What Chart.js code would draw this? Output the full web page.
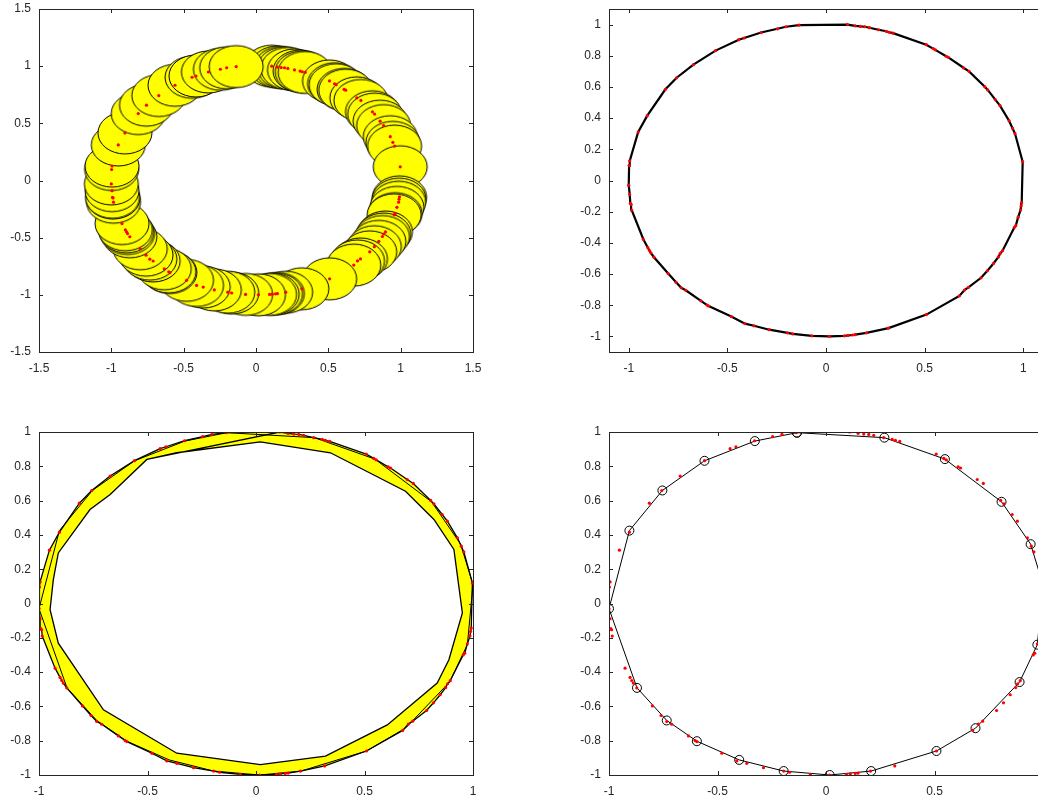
<!DOCTYPE html>
<html>
<head>
<meta charset="utf-8">
<script src="https://cdn.jsdelivr.net/npm/chart.js@4.4.0/dist/chart.umd.min.js"></script>
<style>
html, body { margin: 0; padding: 0; background: #fff; }
body { width: 1038px; height: 801px; overflow: hidden; position: relative; }
canvas { position: absolute; }
</style>
</head>
<body>
<canvas id="c1" width="490" height="380" style="left:0;top:0"></canvas>
<canvas id="c2" width="490" height="380" style="left:570px;top:0"></canvas>
<canvas id="c3" width="490" height="380" style="left:0;top:423px"></canvas>
<canvas id="c4" width="490" height="380" style="left:570px;top:423px"></canvas>
<script>
	// red sample points, clockwise from the top
	var dotX = [0.109, 0.148, 0.174, 0.197, 0.22, 0.266, 0.305, 0.32, 0.34, 0.508, 0.543, 0.554, 0.609, 0.62, 0.697,
		0.725, 0.805, 0.82, 0.858, 0.882, 0.928, 0.946, 0.958, 0.997, 0.992, 0.989, 0.986, 0.974, 0.962, 0.955,
		0.895, 0.883, 0.874, 0.849, 0.818, 0.786, 0.722, 0.702, 0.676, 0.509, 0.317, 0.205, 0.148, 0.135, 0.112,
		0.094, 0.017, -0.072, -0.168, -0.195, -0.288, -0.365, -0.411, -0.48, -0.595, -0.603, -0.634, -0.711, -0.734, -0.76,
		-0.8, -0.872, -0.888, -0.895, -0.903, -0.926, -0.985, -0.988, -0.992, -0.995, -1.0, -0.998, -0.995, -0.952, -0.906,
		-0.814, -0.757, -0.672, -0.56, -0.442, -0.415, -0.329, -0.246, -0.203, -0.137];
	var dotY = [1.0, 0.992, 0.988, 0.986, 0.98, 0.967, 0.957, 0.951, 0.945, 0.871, 0.846, 0.838, 0.797, 0.79, 0.723,
		0.7, 0.601, 0.581, 0.519, 0.48, 0.383, 0.334, 0.301, 0.12, -0.143, -0.163, -0.19, -0.235, -0.29, -0.3,
		-0.45, -0.468, -0.49, -0.532, -0.579, -0.624, -0.686, -0.703, -0.74, -0.86, -0.947, -0.977, -0.989, -0.991, -0.994,
		-0.996, -1.0, -0.996, -0.984, -0.977, -0.957, -0.932, -0.918, -0.873, -0.805, -0.799, -0.772, -0.704, -0.688, -0.653,
		-0.597, -0.492, -0.464, -0.449, -0.431, -0.377, -0.19, -0.153, -0.147, -0.089, -0.03, 0.096, 0.126, 0.311, 0.416,
		0.585, 0.659, 0.743, 0.833, 0.903, 0.914, 0.949, 0.973, 0.986, 0.996];

	// polygon vertices (circle markers), clockwise from the top
	var vertX = [-0.134, 0.269, 0.548, 0.809, 0.943, 1.0, 0.974, 0.892, 0.689, 0.509, 0.208, 0.017, -0.195, -0.4, -0.595,
		-0.734, -0.871, -1.0, -0.906, -0.754, -0.56, -0.328];
	var vertY = [0.996, 0.967, 0.842, 0.593, 0.346, 0.11, -0.24, -0.458, -0.727, -0.86, -0.977, -1.0, -0.977, -0.912, -0.803,
		-0.682, -0.492, -0.03, 0.425, 0.659, 0.832, 0.947];

	// inner edge of the yellow band, clockwise from the top left
	var innerX = [-0.503, -0.365, 0.02, 0.343, 0.689, 0.82, 0.912, 0.951, 0.889, 0.835, 0.605, 0.32, 0.02, -0.365, -0.703,
		-0.911, -0.949, -0.934, -0.911, -0.765, -0.672];
	var innerY = [0.84, 0.879, 0.942, 0.879, 0.655, 0.49, 0.315, -0.055, -0.328, -0.464, -0.708, -0.89, -0.94, -0.873, -0.62,
		-0.231, -0.036, 0.139, 0.295, 0.548, 0.636];

	var ticksWide = [-1.5, -1, -0.5, 0, 0.5, 1, 1.5];
	var ticksHalf = [-1, -0.5, 0, 0.5, 1];
	var ticksFine = [-1, -0.8, -0.6, -0.4, -0.2, 0, 0.2, 0.4, 0.6, 0.8, 1];

	var axisColor = '#262626';

	function pts(xs, ys) {
		return xs.map(function(x, i) { return {x: x, y: ys[i]}; });
	}
	function closed(list) {
		return list.concat([list[0]]);
	}

	// inward ticks on all four sides plus the box
	var frameTicks = {
		id: 'frameTicks',
		afterDatasetsDraw: function(chart) {
			var ctx = chart.ctx, a = chart.chartArea;
			var sx = chart.scales.x, sy = chart.scales.y;
			ctx.save();
			ctx.strokeStyle = axisColor;
			ctx.lineWidth = 1;
			ctx.beginPath();
			sx.ticks.forEach(function(t) {
				var px = Math.round(sx.getPixelForValue(t.value)) + 0.5;
				ctx.moveTo(px, a.bottom); ctx.lineTo(px, a.bottom - 4);
				ctx.moveTo(px, a.top); ctx.lineTo(px, a.top + 4);
			});
			sy.ticks.forEach(function(t) {
				var py = Math.round(sy.getPixelForValue(t.value)) + 0.5;
				ctx.moveTo(a.left, py); ctx.lineTo(a.left + 4, py);
				ctx.moveTo(a.right, py); ctx.lineTo(a.right - 4, py);
			});
			ctx.stroke();
			ctx.strokeRect(Math.round(a.left) + 0.5, Math.round(a.top) + 0.5,
				Math.round(a.right - a.left), Math.round(a.bottom - a.top));
			ctx.restore();
		}
	};

	function axis(min, max, list, pad, vertical) {
		return {
			type: 'linear',
			min: min,
			max: max,
			grid: {display: false, drawTicks: false},
			border: {display: false},
			afterBuildTicks: function(scale) {
				scale.ticks = list.map(function(v) { return {value: v}; });
			},
			afterFit: function(scale) {
				if (vertical) scale.width = 39; else scale.height = 28;
				// the box is placed by hand, labels may hang over it
				scale.paddingTop = 0; scale.paddingBottom = 0;
				scale.paddingLeft = 0; scale.paddingRight = 0;
			},
			ticks: {
				padding: pad,
				color: axisColor,
				font: {family: "'Liberation Sans', Arial, sans-serif", size: 12},
				autoSkip: false,
				maxRotation: 0,
				callback: function(v) { return String(v); }
			}
		};
	}

	function makeChart(id, datasets, xr, yr, xt, yt) {
		return new Chart(document.getElementById(id).getContext('2d'), {
			type: 'scatter',
			data: {datasets: datasets},
			plugins: [frameTicks],
			options: {
				responsive: false,
				animation: false,
				events: [],
				layout: {autoPadding: false, padding: {left: 0, top: 9, right: 17, bottom: 0}},
				plugins: {legend: {display: false}, tooltip: {enabled: false}},
				scales: {
					x: axis(xr[0], xr[1], xt, 9, false),
					y: axis(yr[0], yr[1], yt, 8, true)
				}
			}
		});
	}

	var redDots = {
		data: pts(dotX, dotY),
		pointRadius: 1.6,
		pointBackgroundColor: '#ff0000',
		pointBorderWidth: 0,
		showLine: false
	};

	// yellow disc drawn as an ellipse because the axes are not equal
	var disc = document.createElement('canvas');
	disc.width = 58; disc.height = 46;
	var dc = disc.getContext('2d');
	dc.beginPath();
	dc.ellipse(29, 23, 27, 21, 0, 0, Math.PI * 2);
	dc.fillStyle = '#ffff00';
	dc.fill();
	dc.strokeStyle = '#000';
	dc.lineWidth = 1;
	dc.stroke();

	makeChart('c1', [
		redDots,
		{data: pts(dotX, dotY), pointStyle: disc, pointRadius: 27, showLine: false}
	], [-1.5, 1.5], [-1.5, 1.5], ticksWide, ticksWide);

	makeChart('c2', [
		redDots,
		{data: closed(pts(dotX, dotY)), showLine: true, borderColor: '#000', borderWidth: 2.2, pointRadius: 0, tension: 0}
	], [-1.1, 1.1], [-1.1, 1.1], ticksHalf, ticksFine);

	var outer = closed(pts(dotX, dotY));
	var inner = closed(pts(innerX, innerY)).reverse();
	makeChart('c3', [
		redDots,
		{data: closed(pts(vertX, vertY)), showLine: true, borderColor: '#000', borderWidth: 1, pointRadius: 0, tension: 0},
		{data: outer.concat(inner), showLine: true, fill: 'shape', backgroundColor: '#ffff00',
			borderColor: '#000', borderWidth: 1.3, pointRadius: 0, tension: 0}
	], [-1, 1], [-1, 1], ticksHalf, ticksFine);

	makeChart('c4', [
		redDots,
		{data: closed(pts(vertX, vertY)), showLine: true, borderColor: '#000', borderWidth: 1, tension: 0,
			pointRadius: 4.5, pointBackgroundColor: 'rgba(0,0,0,0)', pointBorderColor: '#000', pointBorderWidth: 1}
	], [-1, 1], [-1, 1], ticksHalf, ticksFine);
</script>
</body>
</html>
